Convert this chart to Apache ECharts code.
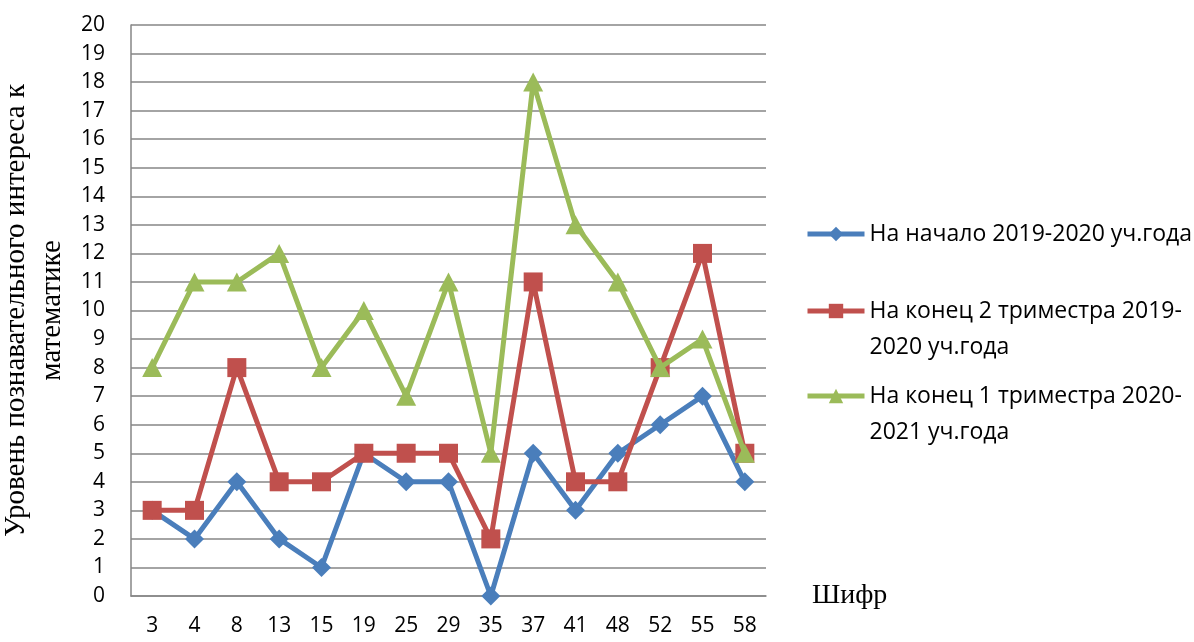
<!DOCTYPE html>
<html>
<head>
<meta charset="utf-8">
<script src="https://cdn.jsdelivr.net/npm/echarts@6/dist/echarts.min.js"></script>
<style>
  html, body { margin: 0; padding: 0; background: #fff; }
  #chart { width: 1194px; height: 642px; }
</style>
</head>
<body>
<div id="chart"></div>
<script>
// Student codes along the horizontal axis
const categories = ['3', '4', '8', '13', '15', '19', '25', '29', '35', '37', '41', '48', '52', '55', '58'];

// Interest level per student for each measurement
const startYear2019 = [3, 2, 4, 2, 1, 5, 4, 4, 0, 5, 3, 5, 6, 7, 4];
const endTerm2_2019 = [3, 3, 8, 4, 4, 5, 5, 5, 2, 11, 4, 4, 8, 12, 5];
const endTerm1_2020 = [8, 11, 11, 12, 8, 10, 7, 11, 5, 18, 13, 11, 8, 9, 5];

const seriesNames = [
  'На начало 2019-2020 уч.года',
  'На конец 2 триместра 2019-2020 уч.года',
  'На конец 1 триместра 2020-2021 уч.года'
];
// Legend wording, wrapped the same way it appears next to the plot
const legendLabels = [
  'На начало 2019-2020 уч.года',
  '\u00a0\nНа конец 2 триместра 2019-\n2020 уч.года',
  '\u00a0\nНа конец 1 триместра 2020-\n2021 уч.года'
];

const yAxisTitle = 'Уровень познавательного интереса к\nматематике';
const xAxisTitle = 'Шифр';

const sansFont = '"Open Sans", "Noto Sans", sans-serif';
const serifFont = '"Liberation Serif", "DejaVu Serif", serif';
const gridColor = '#868686';

const colors = ['#4a7ebb', '#c0504d', '#9bbb59'];
const symbols = ['diamond', 'rect', 'triangle'];
const symbolSizes = [[19, 19], [19, 19], [20, 19]];
const dataSets = [startYear2019, endTerm2_2019, endTerm1_2020];
const legendTops = [216, 257, 342];

const chart = echarts.init(document.getElementById('chart'), null, { renderer: 'canvas' });

const legends = seriesNames.map((name, i) => ({
  data: [name],
  left: 805,
  top: legendTops[i],
  orient: 'vertical',
  padding: 0,
  itemWidth: 57,
  itemHeight: 18,
  itemGap: 0,
  selectedMode: false,
  formatter: () => legendLabels[i],
  lineStyle: { width: 5 },
  textStyle: {
    fontFamily: sansFont,
    fontSize: 23,
    lineHeight: 36,
    color: '#000'
  }
}));

const series = seriesNames.map((name, i) => ({
  name: name,
  type: 'line',
  data: dataSets[i],
  symbol: symbols[i],
  symbolSize: symbolSizes[i],
  showAllSymbol: true,
  lineStyle: { color: colors[i], width: 5 },
  itemStyle: { color: colors[i] },
  emphasis: { disabled: true },
  animation: false,
  z: 2 + i
}));

chart.setOption({
  backgroundColor: '#ffffff',
  animation: false,
  color: colors,
  grid: { left: 131, right: 428, top: 25, bottom: 46, containLabel: false, outerBoundsMode: 'none' },
  legend: legends,
  xAxis: {
    type: 'category',
    data: categories,
    boundaryGap: true,
    name: xAxisTitle,
    nameLocation: 'end',
    nameGap: 46,
    nameTextStyle: { fontFamily: serifFont, fontSize: 28, color: '#000', verticalAlign: 'middle', padding: [4, 0, 0, 0] },
    axisLine: { lineStyle: { color: gridColor, width: 1.5 } },
    axisTick: { show: false },
    axisLabel: { fontFamily: sansFont, fontSize: 21, color: '#000', margin: 20, interval: 0 },
    splitLine: { show: false }
  },
  yAxis: {
    type: 'value',
    min: 0,
    max: 20,
    interval: 1,
    name: yAxisTitle,
    nameLocation: 'middle',
    nameRotate: 90,
    nameGap: 57,
    nameTextStyle: { fontFamily: serifFont, fontSize: 29, lineHeight: 36, color: '#000', align: 'center' },
    axisLine: { show: true, lineStyle: { color: gridColor, width: 1.5 } },
    axisTick: { show: false },
    axisLabel: { fontFamily: sansFont, fontSize: 21, color: '#000', margin: 26 },
    splitLine: { lineStyle: { color: gridColor, width: 1.5 } }
  },
  series: series
});
</script>
</body>
</html>
